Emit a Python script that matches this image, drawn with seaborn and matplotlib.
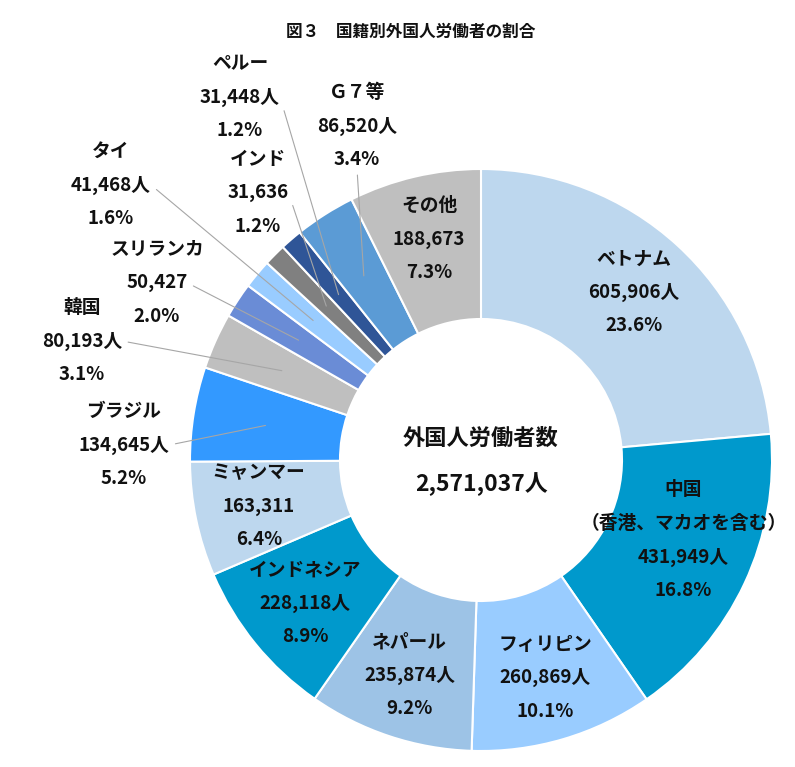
import numpy as np
import matplotlib
matplotlib.use('Agg')
import matplotlib.pyplot as plt
import seaborn as sns

# 国籍別外国人労働者数
countries = ['ベトナム', '中国', 'フィリピン', 'ネパール', 'インドネシア', 'ミャンマー',
             'ブラジル', '韓国', 'スリランカ', 'タイ', 'インド', 'ペルー', 'Ｇ７等', 'その他']
workers = [605906, 431949, 260869, 235874, 228118, 163311,
           134645, 80193, 50427, 41468, 31636, 31448, 86520, 188673]
with_unit = [True, True, True, True, True, False,
             True, True, False, True, False, True, True, False]
sub_names = {'中国': '（香港、マカオを含む）'}
colors = ['#BDD7EE', '#0099CC', '#99CCFF', '#9DC3E6', '#0099CC', '#BDD7EE',
          '#3399FF', '#BFBFBF', '#6A8CD6', '#99CCFF', '#808080', '#2F5597',
          '#5B9BD5', '#BFBFBF']

title = '図３　国籍別外国人労働者の割合'
center_title = '外国人労働者数'

# 図の大きさ(ピクセル)と円の位置
W, H = 795, 767
cx, cy = 481, H - 460
R, R_in = 291, 141
step = 33.5

# 外側に出すラベル: (x, 中段のy, 引出線を付ける行, relpos)  yは画像の上からのピクセル
outer = {
    'ブラジル': (124, 445, 1, (1, 0.5)),
    '韓国': (82, 341, 1, (1, 0.5)),
    'スリランカ': (157, 283, 1, (1, 0.5)),
    'タイ': (111, 185, 1, (1, 0.5)),
    'インド': (258, 193, 1, (1, 0.5)),
    'ペルー': (240, 97, 1, (1, 0.5)),
    'Ｇ７等': (357, 126, 2, (0.5, 0)),
}
# 内側ラベルの微調整(ピクセル)
nudge = {'中国': (-3, 16)}

sns.set_theme(style='white')
plt.rcParams['font.family'] = ['Noto Sans CJK JP', 'DejaVu Sans']
txt = dict(fontsize=13.5, fontweight='bold', color='#111111', ha='center', va='center')

fig = plt.figure(figsize=(W / 100, H / 100), dpi=100)
ax = fig.add_axes([0, 0, 1, 1])
wedges, _ = ax.pie(workers, colors=colors, startangle=90, counterclock=False,
                   radius=R, center=(cx, cy),
                   wedgeprops=dict(width=R - R_in, edgecolor='white', linewidth=1.5))
ax.set_xlim(0, W)
ax.set_ylim(0, H)
ax.axis('off')

total = sum(workers)
for w, name, val, unit in zip(wedges, countries, workers, with_unit):
    lines = [name] + ([sub_names[name]] if name in sub_names else [])
    lines += [f'{val:,}' + ('人' if unit else ''), f'{val / total * 100:.1f}%']
    ang = np.deg2rad((w.theta1 + w.theta2) / 2)
    if name in outer:
        lx, ly, k, rel = outer[name]
        ly = H - ly
        px, py = cx + 0.75 * R * np.cos(ang), cy + 0.75 * R * np.sin(ang)
        for i, s in enumerate(lines):
            y = ly + (1 - i) * step
            if i == k:
                ax.annotate(s, xy=(px, py), xytext=(lx, y), **txt,
                            arrowprops=dict(arrowstyle='-', color='#A6A6A6', lw=0.8,
                                            shrinkA=2, shrinkB=0, relpos=rel))
            else:
                ax.text(lx, y, s, **txt)
    else:
        r = 0.78 * R
        dx, dy = nudge.get(name, (0, 0))
        px, py = cx + r * np.cos(ang) + dx, cy + r * np.sin(ang) + dy
        n = len(lines)
        for i, s in enumerate(lines):
            ax.text(px, py + ((n - 1) / 2 - i) * step, s, **txt)

ax.text(cx, cy + 22, center_title, fontsize=16, fontweight='bold', color='#111111',
        ha='center', va='center')
ax.text(cx, cy - 24, f'{total:,}人', fontsize=16.5, fontweight='bold', color='#111111',
        ha='center', va='center')
ax.text(411, H - 32, title, fontsize=12, fontweight='bold', color='#111111',
        ha='center', va='center')

fig.savefig('out.png', dpi=100)
